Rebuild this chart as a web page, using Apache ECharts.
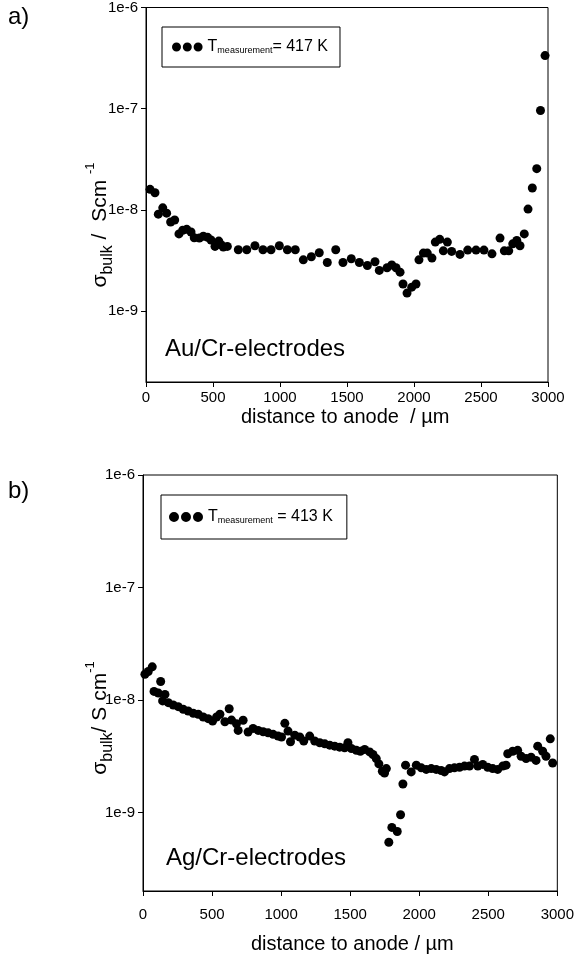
<!DOCTYPE html>
<html>
<head>
<meta charset="utf-8" />
<script src="https://cdn.jsdelivr.net/npm/echarts@6/dist/echarts.min.js"></script>
</head>
<body style="margin:0">
<div id="main" style="width: 577px;height: 965px;"></div>
<script type="text/javascript">
// panel a) Au/Cr electrodes, T = 417 K
var distA = [30, 67, 92, 125, 154, 184, 214, 246, 274, 304, 336, 360, 398, 428, 460, 485, 515, 543, 560, 577,
  607, 689, 752, 813, 873, 933, 995, 1055, 1114, 1174, 1234, 1293, 1353, 1416, 1470, 1532, 1592, 1652, 1709, 1741,
  1799, 1834, 1866, 1896, 1918, 1948, 1983, 2015, 2037, 2070, 2099, 2134, 2159, 2192, 2219, 2249, 2281, 2343, 2401, 2463,
  2522, 2582, 2642, 2674, 2707, 2737, 2767, 2791, 2823, 2851, 2883, 2916, 2944, 2978];
var sigmaA = [1.60e-8, 1.48e-8, 9.1e-9, 1.05e-8, 9.3e-9, 7.6e-9, 7.96e-9, 5.8e-9, 6.3e-9, 6.44e-9, 6.06e-9, 5.32e-9, 5.28e-9, 5.5e-9, 5.37e-9, 5.05e-9, 4.37e-9, 4.93e-9, 4.53e-9, 4.3e-9,
  4.37e-9, 4.05e-9, 4.05e-9, 4.43e-9, 4.05e-9, 4.05e-9, 4.43e-9, 4.05e-9, 4.05e-9, 3.22e-9, 3.45e-9, 3.78e-9, 3.03e-9, 4.05e-9, 3.03e-9, 3.3e-9, 3.03e-9, 2.83e-9, 3.08e-9, 2.53e-9,
  2.69e-9, 2.87e-9, 2.69e-9, 2.43e-9, 1.86e-9, 1.51e-9, 1.73e-9, 1.86e-9, 3.22e-9, 3.75e-9, 3.75e-9, 3.35e-9, 4.82e-9, 5.13e-9, 3.95e-9, 4.82e-9, 3.9e-9, 3.64e-9, 4.02e-9, 4.02e-9,
  4.02e-9, 3.69e-9, 5.28e-9, 3.95e-9, 3.95e-9, 4.63e-9, 5.0e-9, 4.43e-9, 5.8e-9, 1.02e-8, 1.65e-8, 2.56e-8, 9.6e-8, 3.35e-7];

// panel b) Ag/Cr electrodes, T = 413 K
var distB = [14, 38, 67, 128, 80, 111, 159, 142, 183, 219, 255, 291, 327, 364, 400, 436, 472, 504, 533, 557,
  593, 624, 641, 677, 689, 725, 761, 797, 834, 870, 906, 942, 978, 1003, 1027, 1050, 1068, 1099, 1135, 1164,
  1207, 1243, 1280, 1316, 1352, 1388, 1424, 1460, 1484, 1509, 1545, 1574, 1605, 1641, 1665, 1689, 1708, 1733, 1762, 1749,
  1780, 1802, 1841, 1865, 1882, 1901, 1942, 1979, 2015, 2051, 2087, 2123, 2159, 2183, 2219, 2255, 2292, 2328, 2364, 2400,
  2424, 2460, 2496, 2532, 2568, 2605, 2629, 2641, 2677, 2713, 2738, 2774, 2810, 2846, 2858, 2894, 2918, 2949, 2966];
var sigmaB = [1.69e-8, 1.79e-8, 1.97e-8, 1.46e-8, 1.19e-8, 1.15e-8, 1.12e-8, 9.8e-9, 9.46e-9, 9.02e-9, 8.71e-9, 8.26e-9, 7.98e-9, 7.61e-9, 7.45e-9, 7.05e-9, 6.81e-9, 6.49e-9, 7.05e-9, 7.45e-9,
  6.4e-9, 8.35e-9, 6.62e-9, 6.14e-9, 5.36e-9, 6.59e-9, 5.18e-9, 5.58e-9, 5.36e-9, 5.21e-9, 5.1e-9, 4.94e-9, 4.77e-9, 4.68e-9, 6.19e-9, 5.28e-9, 4.25e-9, 4.86e-9, 4.68e-9, 4.31e-9,
  4.77e-9, 4.31e-9, 4.16e-9, 4.07e-9, 3.96e-9, 3.88e-9, 3.8e-9, 3.75e-9, 4.16e-9, 3.7e-9, 3.56e-9, 3.5e-9, 3.63e-9, 3.45e-9, 3.27e-9, 3.01e-9, 2.7e-9, 2.32e-9, 2.45e-9, 2.24e-9,
  5.43e-10, 7.35e-10, 6.76e-10, 9.53e-10, 1.79e-9, 2.63e-9, 2.29e-9, 2.63e-9, 2.49e-9, 2.41e-9, 2.45e-9, 2.41e-9, 2.36e-9, 2.29e-9, 2.45e-9, 2.49e-9, 2.52e-9, 2.58e-9, 2.58e-9, 2.96e-9,
  2.58e-9, 2.67e-9, 2.52e-9, 2.45e-9, 2.41e-9, 2.58e-9, 2.63e-9, 3.32e-9, 3.5e-9, 3.56e-9, 3.16e-9, 3.01e-9, 3.1e-9, 2.9e-9, 3.88e-9, 3.5e-9, 3.16e-9, 4.51e-9, 2.75e-9];

var xTicks = [0, 500, 1000, 1500, 2000, 2500, 3000];
var yTickLabels = ['1e-9', '1e-8', '1e-7', '1e-6'];

function pairs(xs, ys) {
  var out = [];
  for (var i = 0; i < xs.length; i++) out.push([xs[i], ys[i]]);
  return out;
}

var FONT = 'Liberation Sans, Arial, sans-serif';
var dots = 'path://M0,5a5,5 0 1,0 10,0a5,5 0 1,0 -10,0M12,5a5,5 0 1,0 10,0a5,5 0 1,0 -10,0M24,5a5,5 0 1,0 10,0a5,5 0 1,0 -10,0';

function yLabel(v) {
  var e = Math.round(Math.log10(v));
  var s = '1e' + e;
  return yTickLabels.indexOf(s) >= 0 && Math.abs(Math.log10(v) - e) < 1e-6 ? s : '';
}

function xAxisCfg(idx, margin) {
  return {
    type: 'value', gridIndex: idx, min: 0, max: 3000, interval: 500,
    axisLine: { lineStyle: { color: '#000', width: 1 } },
    axisTick: { inside: false, length: 5, lineStyle: { color: '#000' } },
    splitLine: { show: false },
    axisLabel: { color: '#000', fontSize: 15, fontFamily: FONT, margin: margin,
      formatter: function (v) { return xTicks.indexOf(v) >= 0 ? String(v) : ''; } }
  };
}
function yAxisCfg(idx) {
  return {
    type: 'log', logBase: 10, gridIndex: idx, min: 2e-10, max: 1e-6,
    axisLine: { show: true, lineStyle: { color: '#000', width: 1 } },
    axisTick: { show: true, length: 5, lineStyle: { color: '#000' } },
    splitLine: { show: false },
    minorTick: { show: false },
    axisLabel: { color: '#000', fontSize: 15, fontFamily: FONT, margin: 8, showMinLabel: false, formatter: yLabel }
  };
}
function legendCfg(top, left, name, label, iconH, pad) {
  return {
    top: top, left: left, data: [name],
    icon: dots, itemWidth: iconH * 3.4, itemHeight: iconH, itemGap: 0,
    borderColor: '#000', borderWidth: 1, borderRadius: 0,
    padding: pad,
    formatter: function () { return '{a|T}{m|measurement}{a|' + label + '}'; },
    textStyle: { color: '#000', fontFamily: FONT, rich: {
      a: { fontSize: 16, fontFamily: FONT, color: '#000' },
      m: { fontSize: 9, fontFamily: FONT, color: '#000', verticalAlign: 'bottom', padding: [7, 0, 0, 0] }
    } }
  };
}
function yName(x, y, unit) {
  return {
    type: 'text', x: x, y: y, rotation: Math.PI / 2,
    style: {
      text: '{s|σ}{sub|bulk}{s|' + unit + '}{sup|-1}',
      align: 'center', verticalAlign: 'middle', fill: '#000',
      rich: {
        s: { fontSize: 21, fontFamily: FONT, lineHeight: 32, verticalAlign: 'middle' },
        sub: { fontSize: 16, fontFamily: FONT, verticalAlign: 'bottom', lineHeight: 32 },
        sup: { fontSize: 13, fontFamily: FONT, verticalAlign: 'top', lineHeight: 32 }
      }
    }
  };
}

var chart = echarts.init(document.getElementById('main'));
var option = {
  backgroundColor: '#fff',
  animation: false,
  grid: [
    { left: 146, right: 29, top: 6, height: 376, show: true, borderColor: '#000', borderWidth: 1 },
    { left: 143, right: 19, top: 475, height: 416, show: true, borderColor: '#000', borderWidth: 1 }
  ],
  xAxis: [xAxisCfg(0, 8), xAxisCfg(1, 16)],
  yAxis: [yAxisCfg(0), yAxisCfg(1)],
  legend: [
    legendCfg(27, 162, 'T417', '= 417 K', 9, [12, 12, 12, 10]),
    legendCfg(495, 161, 'T413', ' = 413 K', 10, [14, 14, 14, 8])
  ],
  graphic: [
    { type: 'text', left: 8, top: 5, style: { text: 'a)', font: '24px ' + FONT, fill: '#000' } },
    { type: 'text', left: 8, top: 479, style: { text: 'b)', font: '24px ' + FONT, fill: '#000' } },
    { type: 'text', left: 165, top: 337, style: { text: 'Au/Cr-electrodes', font: '24px ' + FONT, fill: '#000' } },
    { type: 'text', left: 166, top: 846, style: { text: 'Ag/Cr-electrodes', font: '24px ' + FONT, fill: '#000' } },
    { type: 'text', left: 241, top: 407, style: { text: 'distance to anode  / µm', font: '20px ' + FONT, fill: '#000' } },
    { type: 'text', left: 251, top: 934, style: { text: 'distance to anode / µm', font: '20px ' + FONT, fill: '#000' } },
    yName(100, 225, ' /  Scm '),
    yName(100, 718, '/ S cm')
  ],
  series: [
    { name: 'T417', type: 'scatter', xAxisIndex: 0, yAxisIndex: 0, symbolSize: 9,
      itemStyle: { color: '#000', opacity: 1 }, data: pairs(distA, sigmaA) },
    { name: 'T413', type: 'scatter', xAxisIndex: 1, yAxisIndex: 1, symbolSize: 9,
      itemStyle: { color: '#000', opacity: 1 }, data: pairs(distB, sigmaB) }
  ]
};
chart.setOption(option);
</script>
</body>
</html>
